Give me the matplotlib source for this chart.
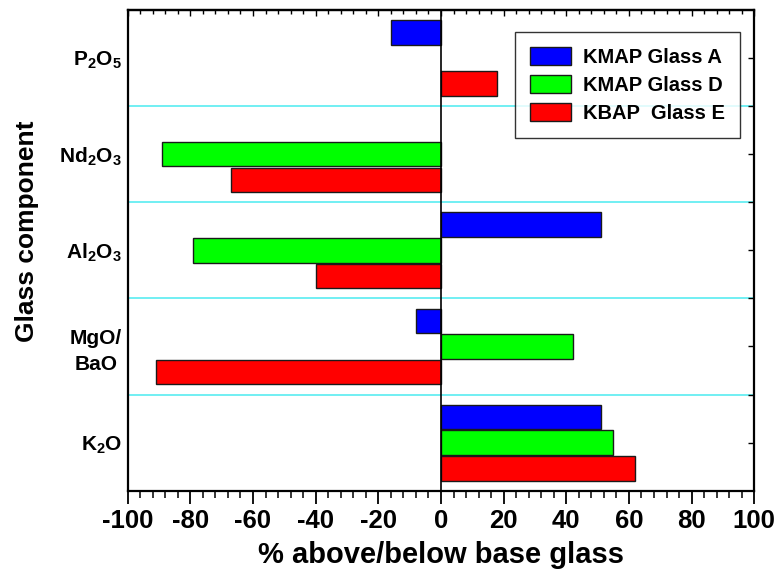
import matplotlib
matplotlib.use("Agg")
import matplotlib.pyplot as plt
import numpy as np
from matplotlib.ticker import MultipleLocator, FixedLocator
from matplotlib.patches import Patch

plt.rcParams['font.family'] = ['Liberation Sans', 'DejaVu Sans']
plt.rcParams['font.weight'] = 'bold'
plt.rcParams['mathtext.fontset'] = 'custom'
plt.rcParams['mathtext.rm'] = 'Liberation Sans:bold'
plt.rcParams['mathtext.it'] = 'Liberation Sans:bold'
plt.rcParams['mathtext.bf'] = 'Liberation Sans:bold'
plt.rcParams['axes.unicode_minus'] = False

categories = [r'P$_2$O$_5$', r'Nd$_2$O$_3$', r'Al$_2$O$_3$', 'MgO/\nBaO', r'K$_2$O']
series_names = ['KMAP Glass A', 'KMAP Glass D', 'KBAP  Glass E']
glass_a = [-16, 0, 51, -8, 51]
glass_d = [0, -89, -79, 42, 55]
glass_e = [18, -67, -40, -91, 62]
colors = ['#0000ff', '#00ff00', '#ff0000']

fig = plt.figure(figsize=(7.78, 5.77), dpi=100)
ax = fig.add_axes([0.1641, 0.1496, 0.8054, 0.8331])

centers = np.arange(len(categories)) + 0.5
h = 0.255
offs = [-0.267, 0.0, 0.267]
for vals, off, c in zip([glass_a, glass_d, glass_e], offs, colors):
    for yc, v in zip(centers, vals):
        if v != 0:
            ax.barh(yc + off, v, height=h, color=c, edgecolor='#1a1a1a', linewidth=1.0, zorder=3)

for b in range(1, len(categories)):
    ax.axhline(b, color='#66eef2', lw=1.3, zorder=1)
ax.axvline(0, color='black', lw=1.2, zorder=4)

ax.set_xlim(-100, 100)
ax.set_ylim(len(categories), 0)
ax.xaxis.set_major_locator(MultipleLocator(20))
ax.xaxis.set_minor_locator(MultipleLocator(4))
ax.set_yticks(centers)
ax.set_yticklabels(categories, fontsize=15, fontweight='bold', multialignment='center')
for lbl in ax.get_yticklabels():
    lbl.set_linespacing(1.45)
ax.yaxis.set_minor_locator(FixedLocator(np.arange(1, len(categories))))
ax.tick_params(axis='x', which='major', direction='out', length=9, width=1.3, labelsize=18.5, pad=4,
               top=False)
ax.tick_params(axis='x', which='minor', direction='out', length=5, width=1.1, top=False)
ax.tick_params(axis='y', which='both', direction='in', length=4, width=1.0, left=False, right=True)
ax.tick_params(axis='y', which='major', pad=4)
secx = ax.secondary_xaxis('top')
secx.xaxis.set_major_locator(MultipleLocator(20))
secx.xaxis.set_minor_locator(MultipleLocator(4))
secx.tick_params(which='major', direction='in', length=4, width=1.0, labeltop=False)
secx.tick_params(which='minor', direction='in', length=3, width=1.0, labeltop=False)
for lbl in ax.get_xticklabels():
    lbl.set_fontweight('bold')
for s in ax.spines.values():
    s.set_linewidth(1.6)
secx.spines['top'].set_linewidth(1.6)

ax.set_xlabel('% above/below base glass', fontsize=21, fontweight='bold', labelpad=6)
ax.set_ylabel('Glass component', fontsize=19, fontweight='bold')
ax.yaxis.set_label_coords(-0.142, 0.54)

handles = [Patch(facecolor=c, edgecolor='#1a1a1a', linewidth=1.0) for c in colors]
leg = ax.legend(handles, series_names, loc='upper right', bbox_to_anchor=(0.977, 0.954),
                borderaxespad=0.0,
                prop={'weight': 'bold', 'size': 14.5}, frameon=True, fancybox=False,
                edgecolor='black', handlelength=2.05, handleheight=1.0, labelspacing=0.42,
                borderpad=0.72, handletextpad=0.6)
leg.get_frame().set_linewidth(1.0)
leg.set_zorder(5)

fig.savefig('out.png', dpi=100)
